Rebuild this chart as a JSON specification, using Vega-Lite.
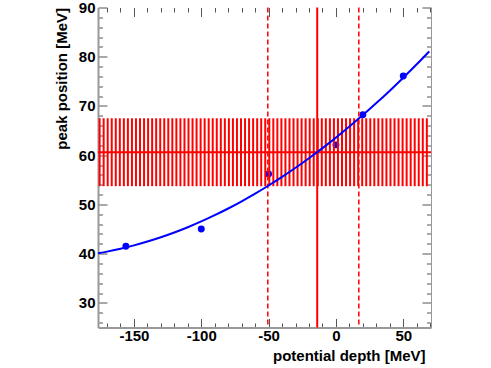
{
  "$schema": "https://vega.github.io/schema/vega-lite/v6.json",
  "autosize": {"type": "none"},
  "width": 333,
  "height": 320,
  "padding": {"left": 98, "top": 7.5, "right": 60, "bottom": 40.5},
  "background": "white",
  "config": {"view": {"stroke": null}, "font": "Liberation Sans"},
  "datasets": {
    "pts": [
      {"depth": -156, "peak": 41.5},
      {"depth": -100, "peak": 45.0},
      {"depth": -50, "peak": 56.2},
      {"depth": 0, "peak": 62.1},
      {"depth": 20, "peak": 68.2},
      {"depth": 50, "peak": 76.1}
    ],
    "fit": [
      {"depth": -176.7, "peak": 40.08}, {"depth": -170, "peak": 40.41}, {"depth": -160, "peak": 41.0},
      {"depth": -150, "peak": 41.68}, {"depth": -140, "peak": 42.46}, {"depth": -130, "peak": 43.33},
      {"depth": -120, "peak": 44.3}, {"depth": -110, "peak": 45.37}, {"depth": -100, "peak": 46.54},
      {"depth": -90, "peak": 47.81}, {"depth": -80, "peak": 49.17}, {"depth": -70, "peak": 50.63},
      {"depth": -60, "peak": 52.18}, {"depth": -50, "peak": 53.84}, {"depth": -40, "peak": 55.59},
      {"depth": -30, "peak": 57.44}, {"depth": -20, "peak": 59.39}, {"depth": -10, "peak": 61.43},
      {"depth": 0, "peak": 63.57}, {"depth": 10, "peak": 65.81}, {"depth": 20, "peak": 68.14},
      {"depth": 30, "peak": 70.58}, {"depth": 40, "peak": 73.11}, {"depth": 50, "peak": 75.74},
      {"depth": 60, "peak": 78.46}, {"depth": 69.3, "peak": 81.09}
    ],
    "band": [
      {"depth": -175.5, "lo": 53.7, "hi": 67.5}, {"depth": -172.5, "lo": 53.7, "hi": 67.5}, {"depth": -169.5, "lo": 53.7, "hi": 67.5},
      {"depth": -166.5, "lo": 53.7, "hi": 67.5}, {"depth": -163.5, "lo": 53.7, "hi": 67.5}, {"depth": -160.5, "lo": 53.7, "hi": 67.5},
      {"depth": -157.5, "lo": 53.7, "hi": 67.5}, {"depth": -154.5, "lo": 53.7, "hi": 67.5}, {"depth": -151.5, "lo": 53.7, "hi": 67.5},
      {"depth": -148.5, "lo": 53.7, "hi": 67.5}, {"depth": -145.5, "lo": 53.7, "hi": 67.5}, {"depth": -142.5, "lo": 53.7, "hi": 67.5},
      {"depth": -139.5, "lo": 53.7, "hi": 67.5}, {"depth": -136.5, "lo": 53.7, "hi": 67.5}, {"depth": -133.5, "lo": 53.7, "hi": 67.5},
      {"depth": -130.5, "lo": 53.7, "hi": 67.5}, {"depth": -127.5, "lo": 53.7, "hi": 67.5}, {"depth": -124.5, "lo": 53.7, "hi": 67.5},
      {"depth": -121.5, "lo": 53.7, "hi": 67.5}, {"depth": -118.5, "lo": 53.7, "hi": 67.5}, {"depth": -115.5, "lo": 53.7, "hi": 67.5},
      {"depth": -112.5, "lo": 53.7, "hi": 67.5}, {"depth": -109.5, "lo": 53.7, "hi": 67.5}, {"depth": -106.5, "lo": 53.7, "hi": 67.5},
      {"depth": -103.5, "lo": 53.7, "hi": 67.5}, {"depth": -100.5, "lo": 53.7, "hi": 67.5}, {"depth": -97.5, "lo": 53.7, "hi": 67.5},
      {"depth": -94.5, "lo": 53.7, "hi": 67.5}, {"depth": -91.5, "lo": 53.7, "hi": 67.5}, {"depth": -88.5, "lo": 53.7, "hi": 67.5},
      {"depth": -85.5, "lo": 53.7, "hi": 67.5}, {"depth": -82.5, "lo": 53.7, "hi": 67.5}, {"depth": -79.5, "lo": 53.7, "hi": 67.5},
      {"depth": -76.5, "lo": 53.7, "hi": 67.5}, {"depth": -73.5, "lo": 53.7, "hi": 67.5}, {"depth": -70.5, "lo": 53.7, "hi": 67.5},
      {"depth": -67.5, "lo": 53.7, "hi": 67.5}, {"depth": -64.5, "lo": 53.7, "hi": 67.5}, {"depth": -61.5, "lo": 53.7, "hi": 67.5},
      {"depth": -58.5, "lo": 53.7, "hi": 67.5}, {"depth": -55.5, "lo": 53.7, "hi": 67.5}, {"depth": -52.5, "lo": 53.7, "hi": 67.5},
      {"depth": -49.5, "lo": 53.7, "hi": 67.5}, {"depth": -46.5, "lo": 53.7, "hi": 67.5}, {"depth": -43.5, "lo": 53.7, "hi": 67.5},
      {"depth": -40.5, "lo": 53.7, "hi": 67.5}, {"depth": -37.5, "lo": 53.7, "hi": 67.5}, {"depth": -34.5, "lo": 53.7, "hi": 67.5},
      {"depth": -31.5, "lo": 53.7, "hi": 67.5}, {"depth": -28.5, "lo": 53.7, "hi": 67.5}, {"depth": -25.5, "lo": 53.7, "hi": 67.5},
      {"depth": -22.5, "lo": 53.7, "hi": 67.5}, {"depth": -19.5, "lo": 53.7, "hi": 67.5}, {"depth": -16.5, "lo": 53.7, "hi": 67.5},
      {"depth": -13.5, "lo": 53.7, "hi": 67.5}, {"depth": -10.5, "lo": 53.7, "hi": 67.5}, {"depth": -7.5, "lo": 53.7, "hi": 67.5},
      {"depth": -4.5, "lo": 53.7, "hi": 67.5}, {"depth": -1.5, "lo": 53.7, "hi": 67.5}, {"depth": 1.5, "lo": 53.7, "hi": 67.5},
      {"depth": 4.5, "lo": 53.7, "hi": 67.5}, {"depth": 7.5, "lo": 53.7, "hi": 67.5}, {"depth": 10.5, "lo": 53.7, "hi": 67.5},
      {"depth": 13.5, "lo": 53.7, "hi": 67.5}, {"depth": 16.5, "lo": 53.7, "hi": 67.5}, {"depth": 19.5, "lo": 53.7, "hi": 67.5},
      {"depth": 22.5, "lo": 53.7, "hi": 67.5}, {"depth": 25.5, "lo": 53.7, "hi": 67.5}, {"depth": 28.5, "lo": 53.7, "hi": 67.5},
      {"depth": 31.5, "lo": 53.7, "hi": 67.5}, {"depth": 34.5, "lo": 53.7, "hi": 67.5}, {"depth": 37.5, "lo": 53.7, "hi": 67.5},
      {"depth": 40.5, "lo": 53.7, "hi": 67.5}, {"depth": 43.5, "lo": 53.7, "hi": 67.5}, {"depth": 46.5, "lo": 53.7, "hi": 67.5},
      {"depth": 49.5, "lo": 53.7, "hi": 67.5}, {"depth": 52.5, "lo": 53.7, "hi": 67.5}, {"depth": 55.5, "lo": 53.7, "hi": 67.5},
      {"depth": 58.5, "lo": 53.7, "hi": 67.5}, {"depth": 61.5, "lo": 53.7, "hi": 67.5}, {"depth": 64.5, "lo": 53.7, "hi": 67.5},
      {"depth": 67.5, "lo": 53.7, "hi": 67.5}
    ],
    "center": [{"peak": 60.6}],
    "vsolid": [{"depth": -13.9}],
    "vdash": [{"depth": -50.6}, {"depth": 17.0}]
  },
  "resolve": {"axis": {"x": "independent", "y": "independent"}},
  "layer": [
    {
      "data": {"name": "pts"},
      "mark": {"type": "circle", "color": "#0000ff", "opacity": 1, "size": 48},
      "encoding": {
        "x": {
          "field": "depth", "type": "quantitative",
          "scale": {"domain": [-176.7, 70.6], "nice": false, "zero": false, "padding": 0},
          "axis": {
            "orient": "bottom",
            "title": "potential depth [MeV]",
            "values": [-170, -160, -150, -140, -130, -120, -110, -100, -90, -80, -70, -60, -50, -40, -30, -20, -10, 0, 10, 20, 30, 40, 50, 60, 70],
            "labelExpr": "datum.value % 50 === 0 ? '' + datum.value : ''",
            "tickSize": {"condition": {"test": "datum.value % 50 === 0", "value": -9}, "value": -4.5},
            "tickColor": "#555", "tickWidth": 1,
            "domainColor": "#999", "domainWidth": 2,
            "grid": false,
            "labelFont": "Liberation Sans", "labelFontWeight": "bold", "labelFontSize": 15, "labelColor": "#000",
            "labelPadding": 10, "labelFlush": false, "labelOverlap": false,
            "titleFont": "Liberation Sans", "titleFontWeight": "bold", "titleFontSize": 15, "titleColor": "#000",
            "titleAnchor": "end", "titlePadding": 0, "titleX": 327
          }
        },
        "y": {
          "field": "peak", "type": "quantitative",
          "scale": {"domain": [25, 90], "nice": false, "zero": false, "padding": 0},
          "axis": {
            "orient": "left",
            "title": "peak position [MeV]",
            "values": [26, 28, 30, 32, 34, 36, 38, 40, 42, 44, 46, 48, 50, 52, 54, 56, 58, 60, 62, 64, 66, 68, 70, 72, 74, 76, 78, 80, 82, 84, 86, 88, 90],
            "labelExpr": "datum.value % 10 === 0 ? '' + datum.value : ''",
            "tickSize": {"condition": {"test": "datum.value % 10 === 0", "value": -9}, "value": -4.5},
            "tickColor": "#555", "tickWidth": 1,
            "domainColor": "#999", "domainWidth": 2,
            "grid": false,
            "labelFont": "Liberation Sans", "labelFontWeight": "bold", "labelFontSize": 15, "labelColor": "#000",
            "labelPadding": 12, "labelFlush": false, "labelOverlap": false,
            "titleFont": "Liberation Sans", "titleFontWeight": "bold", "titleFontSize": 15, "titleColor": "#000",
            "titleAnchor": "end", "titlePadding": 9
          }
        }
      }
    },
    {
      "data": {"name": "band"},
      "mark": {"type": "bar", "color": "#ff0000", "size": 2, "orient": "vertical"},
      "encoding": {
        "x": {"field": "depth", "type": "quantitative", "axis": null},
        "y": {"field": "lo", "type": "quantitative", "axis": null},
        "y2": {"field": "hi"}
      }
    },
    {
      "data": {"name": "center"},
      "mark": {"type": "rule", "color": "#ff0000", "strokeWidth": 2},
      "encoding": {"y": {"field": "peak", "type": "quantitative", "axis": null}}
    },
    {
      "data": {"name": "vsolid"},
      "mark": {"type": "rule", "color": "#ff0000", "strokeWidth": 2},
      "encoding": {"x": {"field": "depth", "type": "quantitative", "axis": null}}
    },
    {
      "data": {"name": "vdash"},
      "mark": {"type": "rule", "color": "#ff0000", "strokeWidth": 1.5, "strokeDash": [5, 3]},
      "encoding": {"x": {"field": "depth", "type": "quantitative", "axis": null}}
    },
    {
      "data": {"name": "fit"},
      "mark": {"type": "line", "color": "#0000ff", "strokeWidth": 2, "interpolate": "monotone"},
      "encoding": {
        "x": {
          "field": "depth", "type": "quantitative",
          "axis": {
            "orient": "top", "title": null, "labels": false, "domain": false, "grid": false,
            "values": [-170, -160, -150, -140, -130, -120, -110, -100, -90, -80, -70, -60, -50, -40, -30, -20, -10, 0, 10, 20, 30, 40, 50, 60, 70],
            "tickSize": {"condition": {"test": "datum.value % 50 === 0", "value": -9}, "value": -4.5},
            "tickColor": "#555"
          }
        },
        "y": {
          "field": "peak", "type": "quantitative",
          "axis": {
            "orient": "right", "title": null, "labels": false, "grid": false,
            "domainColor": "#999", "domainWidth": 1,
            "values": [26, 28, 30, 32, 34, 36, 38, 40, 42, 44, 46, 48, 50, 52, 54, 56, 58, 60, 62, 64, 66, 68, 70, 72, 74, 76, 78, 80, 82, 84, 86, 88, 90],
            "tickSize": {"condition": {"test": "datum.value % 10 === 0", "value": -9}, "value": -4.5},
            "tickColor": "#555"
          }
        }
      }
    }
  ]
}
